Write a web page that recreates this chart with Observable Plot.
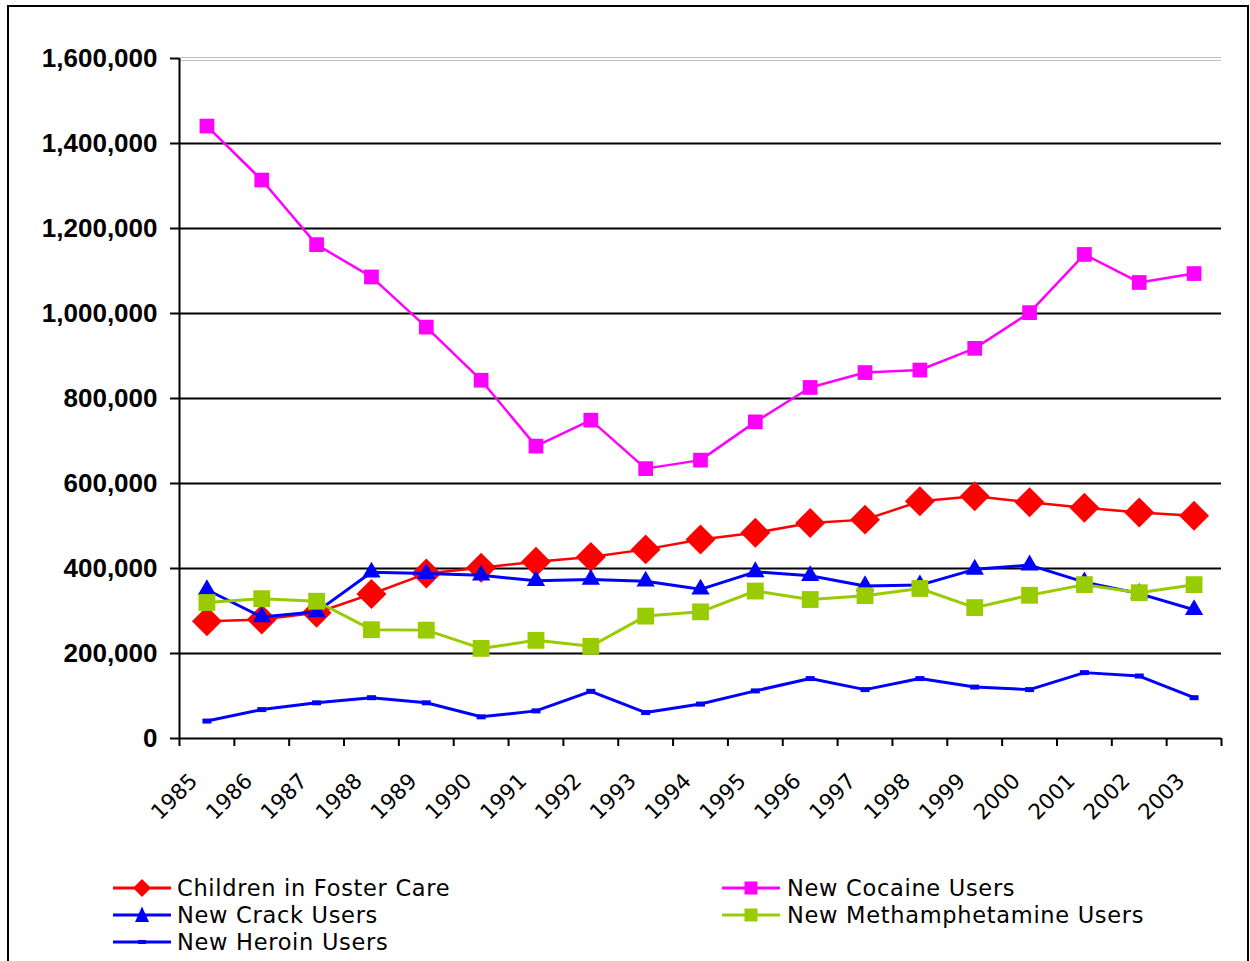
<!DOCTYPE html>
<html><head><meta charset="utf-8">
<script src="https://cdn.jsdelivr.net/npm/d3@7"></script>
<script src="https://cdn.jsdelivr.net/npm/@observablehq/plot@0.6"></script>
<style>
body{margin:0;background:#fff;}
#wrap{position:relative;width:1250px;height:961px;overflow:hidden;background:#fff;}
#frame{position:absolute;left:7px;top:5px;width:1242px;height:990px;border:2px solid #000;box-sizing:border-box;}
#chart{position:absolute;left:0;top:0;}
.leg{position:absolute;font-family:"DejaVu Sans";font-size:22.5px;letter-spacing:0.7px;height:22px;color:#000;display:flex;align-items:center;white-space:nowrap;}
.leg svg{display:block;}
.leg span{display:inline-block;height:22px;line-height:22px;}
</style></head>
<body>
<div id="wrap"><div id="frame"></div><div id="chart"></div></div>
<script>
const years = [1985,1986,1987,1988,1989,1990,1991,1992,1993,1994,1995,1996,1997,1998,1999,2000,2001,2002,2003];
const fosterCare = [276000,280000,296000,340000,388000,402000,416000,427000,445000,468000,484000,507000,515000,558000,570000,556000,543000,532000,524000];
const cocaine = [1441000,1314000,1162000,1086000,968000,843000,688000,749000,635000,655000,745000,826000,861000,867000,918000,1002000,1139000,1073000,1094000];
const crack = [350000,286000,298000,391000,388000,384000,371000,374000,370000,351000,392000,383000,359000,361000,398000,408000,368000,341000,303000];
const meth = [320000,329000,323000,256000,255000,212000,231000,217000,288000,298000,347000,327000,336000,353000,308000,337000,362000,343000,362000];
const heroin = [41000,68000,84000,96000,84000,51000,65000,111000,61000,81000,112000,141000,115000,141000,121000,115000,155000,147000,96000];
const yTicks = [0,200000,400000,600000,800000,1000000,1200000,1400000,1600000];

const seriesNames = ["Children in Foster Care","New Cocaine Users","New Crack Users","New Methamphetamine Users","New Heroin Users"];
const seriesValues = [fosterCare, cocaine, crack, meth, heroin];
const seriesColors = ["#FF0000","#FF00FF","#0000FF","#99CC00","#0000FF"];

const dash = {draw(ctx){ ctx.rect(-4.5,-2.5,9,5); }};
const seriesSymbols = ["diamond2","square","triangle",  "square", dash];
const seriesR = [13.5, 8.3, 6.8, 9.5, 3];
const seriesWidths = [2.5, 2.5, 3, 3, 3];

const marks = [
  Plot.ruleY(yTicks.slice(1, -1), {stroke:"#000", strokeWidth:2}),
  Plot.ruleY(yTicks.slice(-1), {stroke:"#c0c0c0", strokeWidth:1, dy:-1}),
  Plot.ruleY(yTicks.slice(-1), {stroke:"#c0c0c0", strokeWidth:1, dy:2})
];
seriesNames.forEach((name, i) => {
  const rows = years.map((yr, j) => ({year: yr, value: seriesValues[i][j]}));
  marks.push(Plot.line(rows, {x:"year", y:"value", stroke: seriesColors[i], strokeWidth: seriesWidths[i]}));
  marks.push(Plot.dot(rows, {x:"year", y:"value", fill: seriesColors[i], stroke:"none", symbol: seriesSymbols[i], r: seriesR[i]}));
});
const bounds = years.map(y => y - 0.5).concat([years[years.length-1] + 0.5]);
marks.push(
  Plot.axisY({ticks: yTicks, tickFormat: d3.format(","), tickSize: 9, tickPadding: 13, fontSize: 26, fontWeight: "bold", fontFamily: "Liberation Sans", label: null, strokeWidth: 2, color: "#000"}),
  Plot.axisX({ticks: bounds, tickSize: 8, tickFormat: () => "", label: null, strokeWidth: 2, color: "#000"}),
  Plot.axisX({ticks: years, tickSize: 0, tickPadding: 39, tickRotate: -45, dx: -13, tickFormat: d => String(d), fontSize: 21.5, fontFamily: "DejaVu Sans", label: null, color: "#000"}),
  Plot.ruleX(bounds.slice(0, 1), {stroke:"#000", strokeWidth:2}),
  Plot.ruleY(yTicks.slice(0, 1), {stroke:"#000", strokeWidth:2})
);

const chart = Plot.plot({
  width: 1250, height: 860,
  marginLeft: 179, marginRight: 29, marginTop: 58, marginBottom: 122,
  x: {type: "linear", domain: [bounds[0], bounds[bounds.length-1]]},
  y: {domain: [yTicks[0], yTicks[yTicks.length-1]]},
  style: {background: "transparent", overflow: "visible", color: "#000"},
  marks
});
document.getElementById("chart").appendChild(chart);

// Legend (HTML)
const legendPos = [[113, 877], [722, 877], [113, 904], [722, 904], [113, 931]];
const wrap = document.getElementById("wrap");
seriesNames.forEach((name, i) => {
  const div = document.createElement("div");
  div.className = "leg";
  div.style.left = legendPos[i][0] + "px";
  div.style.top = legendPos[i][1] + "px";
  const c = seriesColors[i];
  let m;
  if (i === 0) m = `<path d="M29,2 L38,11 L29,20 L20,11Z" fill="${c}"/>`;
  else if (i === 2) m = `<path d="M29,2.5 L36,18 L22,18Z" fill="${c}"/>`;
  else if (i === 4) m = `<rect x="25" y="9" width="8" height="4" fill="${c}"/>`;
  else m = `<rect x="22.5" y="4.5" width="13" height="13" fill="${c}"/>`;
  div.innerHTML = `<svg width="58" height="22"><line x1="0" x2="58" y1="11" y2="11" stroke="${c}" stroke-width="3"/>${m}</svg><span style="margin-left:${i % 2 ? 7 : 6}px">${name}</span>`;
  wrap.appendChild(div);
});
</script>
</body></html>
